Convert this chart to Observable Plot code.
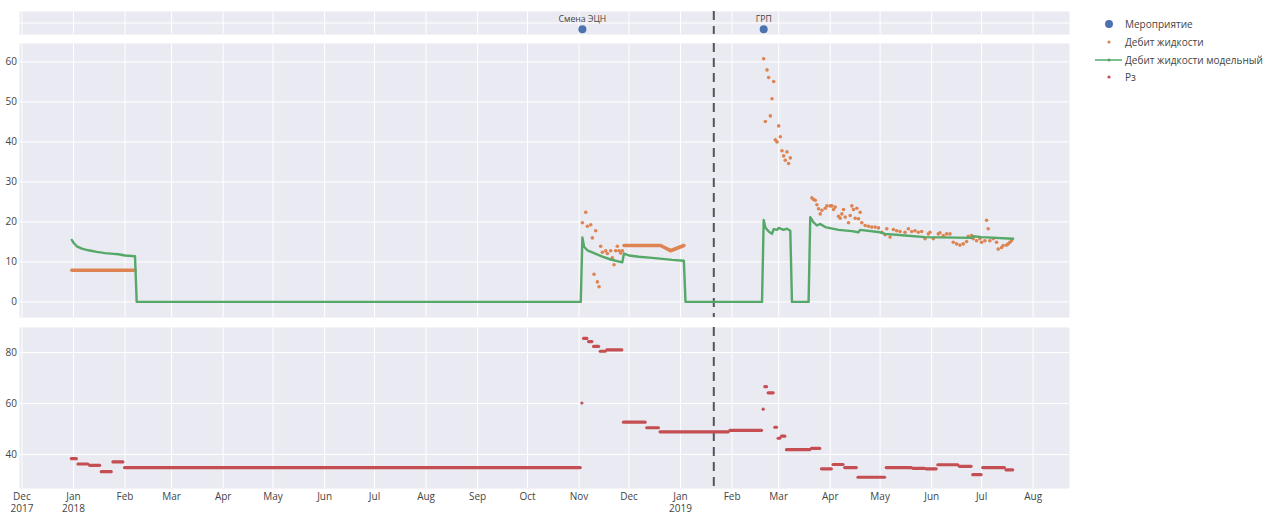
<!DOCTYPE html>
<html>
<head>
<meta charset="utf-8">
<script src="https://cdn.jsdelivr.net/npm/d3@7"></script>
<script src="https://cdn.jsdelivr.net/npm/@observablehq/plot@0.6"></script>
<style>
  html, body { margin: 0; padding: 0; background: #fff; }
  #wrap { position: relative; width: 1273px; height: 513px; font-family: 'Open Sans', verdana, arial, sans-serif; }
  .panel { position: absolute; left: 0; }
  .lg-row { position: absolute; left: 0; height: 16px; display: flex; align-items: center; font-size: 10px; color: #444; white-space: nowrap; }
  .lg-row svg { display: block; }
</style>
</head>
<body>
<div id="wrap">
  <div class="panel" id="pTop" style="top:0"></div>
  <div class="panel" id="pMid" style="top:43px"></div>
  <div class="panel" id="pBot" style="top:327px"></div>
  <div id="legend" style="position:absolute; left:1090px; top:16px;"></div>
</div>
<script>
(function () {
// ---------------- DATA ----------------
const eventNames = ["Смена ЭЦН", "ГРП"];
const eventDates = ["2018-11-03", "2019-02-20"];
const cutoffDate = "2019-01-21";

const monthTicks = ["2017-12-01","2018-01-01","2018-02-01","2018-03-01","2018-04-01","2018-05-01","2018-06-01",
  "2018-07-01","2018-08-01","2018-09-01","2018-10-01","2018-11-01","2018-12-01","2019-01-01","2019-02-01",
  "2019-03-01","2019-04-01","2019-05-01","2019-06-01","2019-07-01","2019-08-01"];
const monthLabels = ["Dec\n2017","Jan\n2018","Feb","Mar","Apr","May","Jun","Jul","Aug","Sep","Oct","Nov","Dec",
  "Jan\n2019","Feb","Mar","Apr","May","Jun","Jul","Aug"];

const liquidTicks = [0, 10, 20, 30, 40, 50, 60];
const pzTicks = [40, 60, 80];

// Дебит жидкости — dense daily stretches (drawn as runs of markers)
const liquidDense1 = [["2017-12-31", 7.9], ["2018-02-07", 7.9]];
const liquidDense2 = [["2018-11-28", 14.1], ["2018-12-20", 14.1], ["2018-12-26", 12.8], ["2019-01-03", 14.1]];

// Дебит жидкости — scattered daily measurements
const liquidPoints = [
  ["2018-11-03",19.8],["2018-11-05",22.4],["2018-11-06",18.9],["2018-11-08",19.3],["2018-11-09",16.0],
  ["2018-11-10",6.9],["2018-11-11",17.8],["2018-11-12",5.0],["2018-11-13",3.8],["2018-11-14",13.9],
  ["2018-11-15",12.4],["2018-11-17",12.8],["2018-11-18",12.1],["2018-11-20",12.8],["2018-11-21",11.0],
  ["2018-11-22",9.3],["2018-11-23",12.8],["2018-11-24",13.9],["2018-11-25",12.8],["2018-11-26",12.2],
  ["2018-11-27",12.8],
  ["2019-02-20",60.8],["2019-02-21",45.1],["2019-02-22",58.0],["2019-02-23",56.1],["2019-02-24",46.5],
  ["2019-02-25",50.8],["2019-02-26",55.1],["2019-02-27",40.5],["2019-02-28",40.0],["2019-03-01",44.0],
  ["2019-03-02",41.3],["2019-03-03",37.8],["2019-03-04",36.5],["2019-03-05",35.4],["2019-03-06",37.5],
  ["2019-03-07",34.6],["2019-03-08",36.0],
  ["2019-03-21",26.0],["2019-03-22",25.6],["2019-03-23",25.4],["2019-03-24",24.3],["2019-03-25",23.3],
  ["2019-03-26",22.0],["2019-03-27",22.9],["2019-03-29",23.4],["2019-03-30",24.0],["2019-04-01",24.0],
  ["2019-04-02",24.0],["2019-04-03",23.1],["2019-04-04",23.7],["2019-04-06",21.4],["2019-04-07",20.9],
  ["2019-04-08",22.0],["2019-04-09",23.1],["2019-04-10",21.2],["2019-04-12",19.8],["2019-04-13",21.6],
  ["2019-04-14",24.0],["2019-04-15",23.1],["2019-04-16",20.9],["2019-04-17",23.4],["2019-04-18",20.8],
  ["2019-04-19",22.4],["2019-04-20",19.8],["2019-04-22",19.1],["2019-04-24",18.9],["2019-04-26",18.7],
  ["2019-04-28",18.7],["2019-04-30",18.5],["2019-05-02",17.4],["2019-05-04",16.8],["2019-05-05",18.3],
  ["2019-05-07",16.2],["2019-05-09",18.1],["2019-05-11",17.8],["2019-05-13",17.6],["2019-05-16",17.4],
  ["2019-05-18",18.3],["2019-05-20",17.6],["2019-05-22",17.8],["2019-05-24",17.4],["2019-05-26",17.6],
  ["2019-05-28",15.8],["2019-05-30",17.0],["2019-05-31",17.4],["2019-06-02",15.8],["2019-06-05",17.0],
  ["2019-06-06",17.3],["2019-06-08",16.6],["2019-06-10",17.0],["2019-06-12",17.0],["2019-06-14",14.9],
  ["2019-06-16",14.5],["2019-06-18",14.2],["2019-06-20",14.5],["2019-06-22",15.1],["2019-06-23",16.4],
  ["2019-06-25",16.6],["2019-06-26",15.8],["2019-06-28",15.3],["2019-06-30",15.8],["2019-07-01",14.9],
  ["2019-07-03",15.3],["2019-07-04",20.4],["2019-07-05",18.3],["2019-07-06",15.3],["2019-07-08",15.8],
  ["2019-07-10",14.9],["2019-07-11",13.2],["2019-07-13",13.6],["2019-07-14",14.1],["2019-07-16",14.2],
  ["2019-07-17",14.5],["2019-07-18",14.9],["2019-07-19",15.3]
];

// Дебит жидкости модельный
const modelLine = [
  ["2017-12-31",15.5],["2018-01-01",14.8],["2018-01-03",13.9],["2018-01-06",13.3],["2018-01-10",12.9],
  ["2018-01-15",12.5],["2018-01-20",12.2],["2018-01-25",12.0],["2018-01-28",11.9],["2018-02-01",11.6],
  ["2018-02-07",11.4],["2018-02-08",0],["2018-11-02",0],["2018-11-03",16.1],["2018-11-04",13.8],
  ["2018-11-06",12.9],["2018-11-10",12.2],["2018-11-15",11.3],["2018-11-20",10.6],["2018-11-27",9.9],
  ["2018-11-28",12.1],["2018-12-01",11.6],["2018-12-07",11.3],["2018-12-15",11.0],["2018-12-27",10.5],
  ["2019-01-03",10.3],["2019-01-04",0],["2019-02-19",0],["2019-02-20",20.5],["2019-02-21",18.6],
  ["2019-02-23",17.6],["2019-02-25",17.0],["2019-02-26",18.2],["2019-02-28",18.0],["2019-03-01",18.5],
  ["2019-03-04",18.0],["2019-03-06",18.3],["2019-03-08",17.8],["2019-03-09",0],["2019-03-19",0],
  ["2019-03-20",21.2],["2019-03-22",19.9],["2019-03-24",19.1],["2019-03-26",19.5],["2019-03-29",18.7],
  ["2019-04-06",18.0],["2019-04-14",17.7],["2019-04-18",17.4],["2019-04-19",18.0],["2019-05-01",17.4],
  ["2019-05-04",17.0],["2019-05-16",16.6],["2019-05-28",16.2],["2019-06-25",16.0],["2019-06-26",16.4],
  ["2019-07-01",16.2],["2019-07-20",15.8]
];

// Рз — runs of equal daily values [first day, last day, value]
const pzRuns = [
  ["2017-12-31","2018-01-03",38.4],["2018-01-04","2018-01-10",36.3],["2018-01-11","2018-01-17",35.8],
  ["2018-01-18","2018-01-24",33.3],["2018-01-25","2018-01-31",37.1],["2018-02-01","2018-11-02",34.9],
  ["2018-11-03","2018-11-03",60.2],["2018-11-04","2018-11-06",85.5],["2018-11-07","2018-11-09",84.3],
  ["2018-11-10","2018-11-13",82.4],["2018-11-14","2018-11-17",80.5],["2018-11-18","2018-11-27",81.0],
  ["2018-11-28","2018-12-11",52.7],["2018-12-12","2018-12-19",50.5],["2018-12-20","2019-01-30",48.9],
  ["2019-01-31","2019-02-19",49.5],["2019-02-20","2019-02-20",57.8],["2019-02-21","2019-02-22",66.6],
  ["2019-02-23","2019-02-26",64.2],["2019-02-27","2019-02-28",50.7],["2019-03-01","2019-03-02",46.4],
  ["2019-03-03","2019-03-05",47.2],["2019-03-06","2019-03-20",41.9],["2019-03-21","2019-03-26",42.4],
  ["2019-03-27","2019-04-02",34.4],["2019-04-03","2019-04-09",36.1],["2019-04-10","2019-04-17",34.9],
  ["2019-04-18","2019-05-04",31.1],["2019-05-05","2019-05-20",34.9],["2019-05-21","2019-05-28",34.6],
  ["2019-05-29","2019-06-04",34.4],["2019-06-05","2019-06-17",36.0],["2019-06-18","2019-06-25",35.4],
  ["2019-06-26","2019-07-01",32.1],["2019-07-02","2019-07-15",34.9],["2019-07-16","2019-07-20",34.0]
];

// ---------------- STYLE ----------------
const FONT = "'Open Sans', verdana, arial, sans-serif";
const C_EVENT = "#4c72b0", C_LIQ = "#dd8452", C_MODEL = "#55a868", C_PZ = "#c44e52";
const BG = "#eaeaf2";
const W = 1273, ML = 19, MR = 204;
const xDomain = [new Date("2017-11-29T13:00:00Z"), new Date("2019-08-22T21:00:00Z")];
const tickDates = monthTicks.map(d => new Date(d));
const labelByTime = new Map(tickDates.map((d, i) => [+d, monthLabels[i]]));
const cutoff = [new Date(cutoffDate)];
const events = eventNames.map((n, i) => ({name: n, date: new Date(eventDates[i])}));
const pd = d => new Date(d[0]);
const styleBase = {fontFamily: FONT, fontSize: "10px", color: "#444", background: "transparent", overflow: "visible"};

const background = () => [
  Plot.frame({fill: BG, stroke: null}),
  Plot.gridX(tickDates, {stroke: "white", strokeOpacity: 1, strokeWidth: 1})
];
const vline = () => Plot.ruleX(cutoff, {stroke: "#555", strokeWidth: 2, strokeDasharray: "9,6"});

// ---------------- TOP: events ----------------
const chartTop = Plot.plot({
  width: W, height: 34, marginLeft: ML, marginRight: MR, marginTop: 11, marginBottom: 0,
  style: styleBase,
  x: {type: "utc", domain: xDomain, axis: null},
  y: {domain: [-0.45, 1.55], axis: null},
  marks: [
    ...background(),
    Plot.gridY([0.55], {stroke: "white", strokeOpacity: 1, strokeWidth: 1}),
    vline(),
    Plot.dot(events, {x: "date", y: () => 0, r: 4, fill: C_EVENT, stroke: null}),
    Plot.text(events, {x: "date", y: () => 0, text: "name", dy: -10, fontSize: 8.7, fill: "#444"})
  ]
});
document.getElementById("pTop").appendChild(chartTop);

// ---------------- MIDDLE: liquid rate ----------------
const chartMid = Plot.plot({
  width: W, height: 274, marginLeft: ML, marginRight: MR, marginTop: 0, marginBottom: 0,
  style: styleBase,
  x: {type: "utc", domain: xDomain, axis: null},
  y: {domain: [-3.9, 64.6], axis: null},
  marks: [
    ...background(),
    Plot.gridY(liquidTicks, {stroke: "white", strokeOpacity: 1, strokeWidth: 1}),
    Plot.axisY(liquidTicks, {tickSize: 0, tickPadding: 2.5, fontSize: 10, label: null}),
    vline(),
    Plot.line(liquidDense1, {x: pd, y: d => d[1], stroke: C_LIQ, strokeWidth: 3.6}),
    Plot.line(liquidDense2, {x: pd, y: d => d[1], stroke: C_LIQ, strokeWidth: 3.6}),
    Plot.dot(liquidPoints, {x: pd, y: d => d[1], r: 1.8, fill: C_LIQ, stroke: null}),
    Plot.line(modelLine, {x: pd, y: d => d[1], stroke: C_MODEL, strokeWidth: 2.4})
  ]
});
document.getElementById("pMid").appendChild(chartMid);

// ---------------- BOTTOM: Рз ----------------
const chartBot = Plot.plot({
  width: W, height: 186, marginLeft: ML, marginRight: MR, marginTop: 0, marginBottom: 25,
  style: styleBase,
  x: {type: "utc", domain: xDomain},
  y: {domain: [26.7, 89.8], axis: null},
  marks: [
    ...background(),
    Plot.gridY(pzTicks, {stroke: "white", strokeOpacity: 1, strokeWidth: 1}),
    Plot.axisY(pzTicks, {tickSize: 0, tickPadding: 2.5, fontSize: 10, label: null}),
    Plot.axisX(tickDates, {tickSize: 0, tickPadding: 2.5, fontSize: 10, label: null, lineHeight: 1.2,
      tickFormat: d => labelByTime.get(+d)}),
    vline(),
    Plot.ruleY(pzRuns, {y: d => d[2], x1: d => new Date(d[0]), x2: d => new Date(d[1]),
      stroke: C_PZ, strokeWidth: 3.2, strokeLinecap: "round"})
  ]
});
document.getElementById("pBot").appendChild(chartBot);

// ---------------- LEGEND ----------------
const legendItems = [
  {label: "Мероприятие", kind: "bigdot", color: C_EVENT},
  {label: "Дебит жидкости", kind: "dot", color: C_LIQ},
  {label: "Дебит жидкости модельный", kind: "line", color: C_MODEL},
  {label: "Рз", kind: "dot", color: C_PZ}
];
const legend = document.getElementById("legend");
legendItems.forEach((it, i) => {
  const row = document.createElement("div");
  row.className = "lg-row";
  row.style.top = (i * 17.8) + "px";
  let sym = "";
  if (it.kind === "bigdot") sym = `<circle cx="19" cy="8" r="4" fill="${it.color}"/>`;
  else if (it.kind === "dot") sym = `<circle cx="19" cy="8" r="1.6" fill="${it.color}"/>`;
  else sym = `<line x1="5" x2="32" y1="8" y2="8" stroke="${it.color}" stroke-width="1.5"/><circle cx="19" cy="8" r="1.6" fill="${it.color}"/>`;
  row.innerHTML = `<svg width="35" height="16">${sym}</svg><span>${it.label}</span>`;
  legend.appendChild(row);
});
})();
</script>
</body>
</html>
